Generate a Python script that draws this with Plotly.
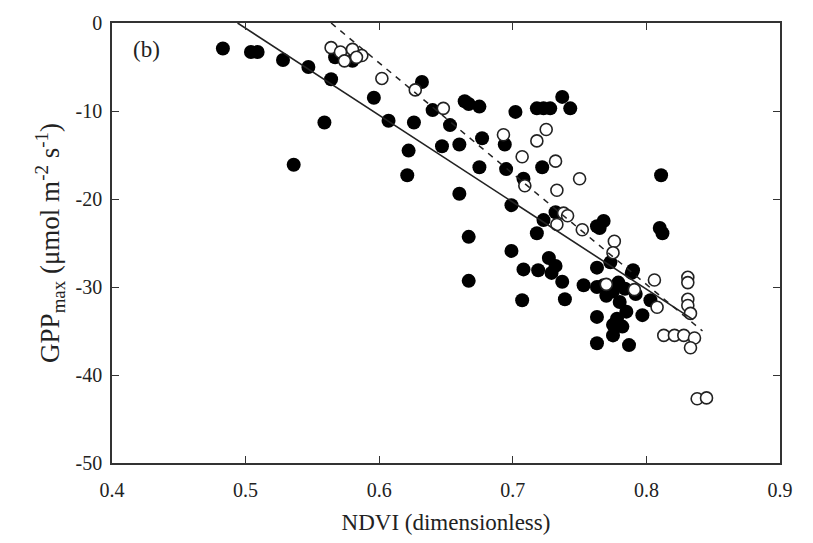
import plotly.graph_objects as go

# Filled (black) circles: NDVI, GPPmax
filled_x = [0.483, 0.504, 0.509, 0.528, 0.547, 0.564, 0.567, 0.580, 0.596, 0.559,
            0.536, 0.607, 0.626, 0.622, 0.621, 0.632, 0.640, 0.647, 0.653, 0.660,
            0.664, 0.667, 0.675, 0.677, 0.675, 0.660, 0.667, 0.667, 0.694, 0.695,
            0.702, 0.699, 0.699, 0.708, 0.708, 0.707, 0.718, 0.723, 0.728, 0.737,
            0.743, 0.722, 0.732, 0.723, 0.718, 0.719, 0.727, 0.732, 0.729, 0.737,
            0.739, 0.753, 0.763, 0.768, 0.765, 0.763, 0.773, 0.763, 0.768, 0.763,
            0.763, 0.775, 0.775, 0.778, 0.780, 0.779, 0.784, 0.785, 0.787, 0.789,
            0.790, 0.797, 0.803, 0.811, 0.810, 0.812, 0.770, 0.775, 0.782, 0.792]
filled_y = [-2.9, -3.3, -3.3, -4.2, -5.0, -6.4, -3.9, -4.3, -8.5, -11.3,
            -16.1, -11.1, -11.3, -14.5, -17.3, -6.7, -9.9, -14.0, -11.6, -13.8,
            -8.9, -9.2, -9.5, -13.1, -16.4, -19.4, -24.3, -29.3, -13.8, -16.6,
            -10.1, -20.7, -25.9, -17.7, -28.0, -31.5, -9.7, -9.7, -9.7, -8.4,
            -9.7, -16.4, -21.5, -22.4, -23.9, -28.1, -26.7, -27.6, -28.4, -29.4,
            -31.4, -29.8, -23.1, -22.5, -23.3, -27.8, -27.2, -30.0, -29.8, -33.4,
            -36.4, -35.5, -34.3, -33.6, -31.7, -29.5, -30.2, -32.8, -36.6, -28.4,
            -28.1, -33.2, -31.5, -17.3, -23.3, -23.9, -31.0, -30.5, -34.5, -30.8]

# Open circles
open_x = [0.564, 0.571, 0.580, 0.587, 0.574, 0.583, 0.602, 0.627, 0.648, 0.693,
          0.725, 0.718, 0.707, 0.732, 0.709, 0.733, 0.750, 0.738, 0.741, 0.733,
          0.752, 0.776, 0.775, 0.770, 0.791, 0.806, 0.808, 0.831, 0.831, 0.831,
          0.831, 0.833, 0.813, 0.821, 0.828, 0.836, 0.833, 0.838, 0.845]
open_y = [-2.8, -3.3, -3.0, -3.7, -4.3, -3.9, -6.3, -7.6, -9.7, -12.7,
          -12.1, -13.4, -15.2, -15.7, -18.5, -19.0, -17.7, -21.6, -21.9, -22.9,
          -23.5, -24.8, -26.1, -29.7, -30.3, -29.2, -32.3, -28.9, -29.5, -31.4,
          -32.1, -33.0, -35.5, -35.5, -35.5, -35.8, -36.9, -42.7, -42.6]

# Regression line endpoints
solid_x = [0.494, 0.835]
solid_y = [0.0, -33.7]
dash_x = [0.564, 0.842]
dash_y = [0.0, -35.0]

x_ticks = [0.4, 0.5, 0.6, 0.7, 0.8, 0.9]
x_ticktext = ["0.4", "0.5", "0.6", "0.7", "0.8", "0.9"]
y_ticks = [0, -10, -20, -30, -40, -50]
y_ticktext = ["0", "-10", "-20", "-30", "-40", "-50"]

FONT = "Liberation Serif"
TXT = "#222"

fig = go.Figure()
fig.add_trace(go.Scatter(x=filled_x, y=filled_y, mode="markers",
                         marker=dict(size=14, color="black", line=dict(width=0)),
                         showlegend=False))
fig.add_trace(go.Scatter(x=open_x, y=open_y, mode="markers",
                         marker=dict(size=12, color="white", line=dict(width=1.6, color="#222")),
                         showlegend=False))
fig.add_trace(go.Scatter(x=solid_x, y=solid_y, mode="lines",
                         line=dict(color="#222", width=1.6), showlegend=False))
fig.add_trace(go.Scatter(x=dash_x, y=dash_y, mode="lines",
                         line=dict(color="#222", width=1.5, dash="6px,6px"), showlegend=False))

fig.add_annotation(x=0.426, y=-3.0, text="(b)", showarrow=False,
                   font=dict(family=FONT, size=23, color=TXT))

axis_common = dict(showgrid=False, zeroline=False, showline=True, linecolor="#333",
                   linewidth=1.5, ticks="inside", ticklen=7, tickwidth=1.3,
                   tickcolor="#333", mirror="ticks",
                   tickfont=dict(family=FONT, size=20, color=TXT))

fig.update_xaxes(range=[0.4, 0.9], tickvals=x_ticks, ticktext=x_ticktext,
                 ticklabelstandoff=8,
                 title=dict(text="NDVI (dimensionless)", standoff=14,
                            font=dict(family=FONT, size=23, color=TXT)),
                 **axis_common)
fig.update_yaxes(range=[-50, 0], tickvals=y_ticks, ticktext=y_ticktext,
                 ticklabelstandoff=4,
                 title=dict(text="GPP<sub>max</sub> (μmol m<sup>-2</sup> s<sup>-1</sup>)", standoff=8,
                            font=dict(family=FONT, size=27, color=TXT)),
                 **axis_common)

fig.update_layout(width=813, height=543, plot_bgcolor="white", paper_bgcolor="white",
                  margin=dict(l=112, r=33, t=17, b=80))

fig.write_html("out.html")
